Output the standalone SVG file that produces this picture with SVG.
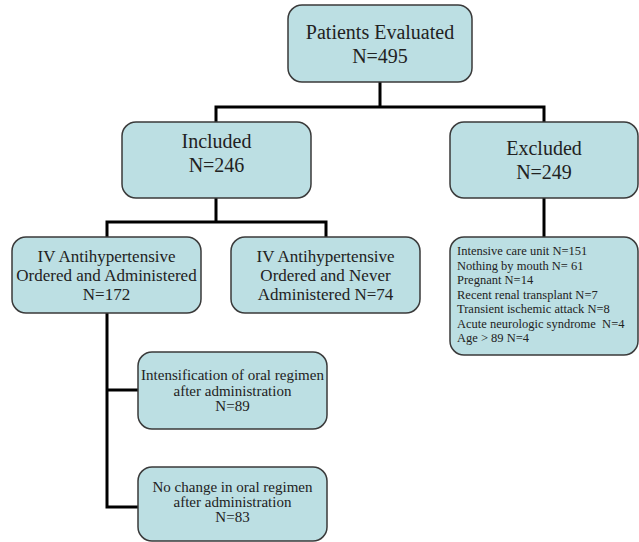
<svg xmlns="http://www.w3.org/2000/svg" width="639" height="542" viewBox="0 0 639 542">
<style>
.box{fill:#bcdfe3;stroke:#3a3a3a;stroke-width:1.5}
.t{font-family:"Liberation Serif","Times New Roman",serif;fill:#222;text-anchor:middle}
.t20{font-size:20px}
.t17{font-size:17px}
.t15{font-size:15px}
.l{font-family:"Liberation Serif","Times New Roman",serif;fill:#222;font-size:12.5px}
.c{fill:none;stroke:#000;stroke-width:3;stroke-linejoin:miter}
</style>
<rect width="639" height="542" fill="#fff"/>
<g id="connectors">
<path class="c" d="M380,82 V107 M216,107 H544 M216,105.5 V122 M544,105.5 V122"/>
<path class="c" d="M216,198 V222 M107,222 H326 M107,220.5 V237 M326,220.5 V237"/>
<path class="c" d="M544,198 V237"/>
<path class="c" d="M107,313 V507 H138 M107,390 H138"/>
</g>
<g id="evaluated">
<rect class="box" x="288" y="5" width="184" height="77" rx="14"/>
<text class="t t20" x="380" y="39">Patients Evaluated</text>
<text class="t t20" x="380" y="63">N=495</text>
</g>
<g id="included">
<rect class="box" x="122" y="122" width="189" height="76" rx="14"/>
<text class="t t20" x="216.5" y="148">Included</text>
<text class="t t20" x="216.5" y="172">N=246</text>
</g>
<g id="excluded">
<rect class="box" x="450" y="122" width="188" height="76" rx="14"/>
<text class="t t20" x="544" y="155">Excluded</text>
<text class="t t20" x="544" y="179">N=249</text>
</g>
<g id="administered">
<rect class="box" x="12" y="237" width="189" height="76" rx="14"/>
<text class="t t17" x="106.5" y="262">IV Antihypertensive</text>
<text class="t t17" x="106.5" y="281">Ordered and Administered</text>
<text class="t t17" x="106.5" y="300">N=172</text>
</g>
<g id="never">
<rect class="box" x="231" y="237" width="189" height="76" rx="14"/>
<text class="t t17" x="325.5" y="262">IV Antihypertensive</text>
<text class="t t17" x="325.5" y="281">Ordered and Never</text>
<text class="t t17" x="325.5" y="300">Administered N=74</text>
</g>
<g id="exclusions">
<rect class="box" x="450" y="237" width="188" height="118" rx="14"/>
<text class="l" x="457" y="255">Intensive care unit N=151</text>
<text class="l" x="457" y="269.5">Nothing by mouth N= 61</text>
<text class="l" x="457" y="284">Pregnant N=14</text>
<text class="l" x="457" y="298.5">Recent renal transplant N=7</text>
<text class="l" x="457" y="313">Transient ischemic attack N=8</text>
<text class="l" x="457" y="327.5" xml:space="preserve">Acute neurologic syndrome  N=4</text>
<text class="l" x="457" y="342">Age &gt; 89 N=4</text>
</g>
<g id="intensification">
<rect class="box" x="138" y="352" width="189" height="77" rx="14"/>
<text class="t t15" x="232.5" y="380">Intensification of oral regimen</text>
<text class="t t15" x="232.5" y="396">after administration</text>
<text class="t t15" x="232.5" y="411">N=89</text>
</g>
<g id="nochange">
<rect class="box" x="138" y="467" width="189" height="74" rx="14"/>
<text class="t t15" x="232.5" y="492">No change in oral regimen</text>
<text class="t t15" x="232.5" y="507">after administration</text>
<text class="t t15" x="232.5" y="522">N=83</text>
</g>
</svg>
